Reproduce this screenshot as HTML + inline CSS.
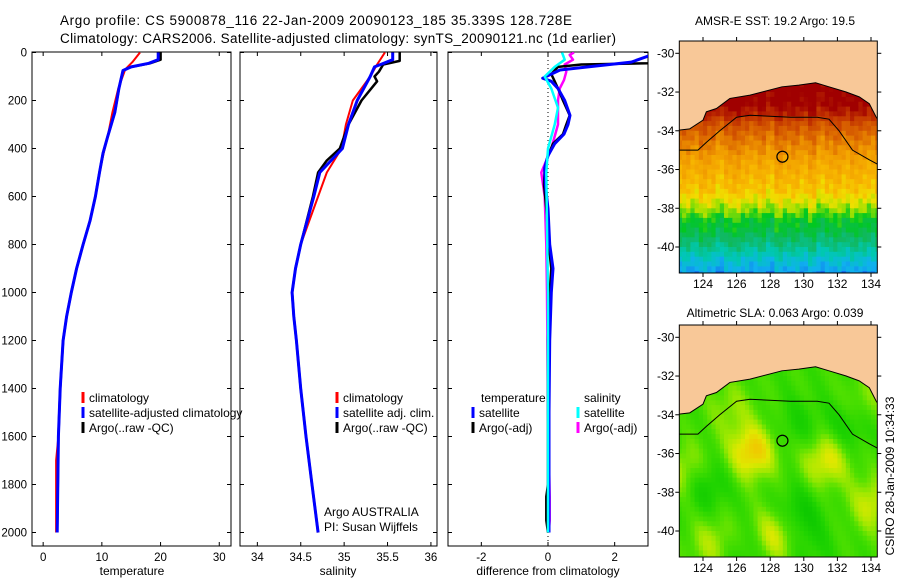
<!DOCTYPE html>
<html><head><meta charset="utf-8"><style>
html,body{margin:0;padding:0;background:#fff;}
svg{display:block;font-family:"Liberation Sans",sans-serif;}
</style></head><body>
<svg id="fig" width="900" height="580" viewBox="0 0 900 580" xmlns="http://www.w3.org/2000/svg">
<text x="60" y="25" font-size="13.5" textLength="512">Argo profile: CS 5900878_116 22-Jan-2009 20090123_185 35.339S 128.728E</text>
<text x="60" y="43" font-size="13.5" textLength="556">Climatology: CARS2006. Satellite-adjusted climatology: synTS_20090121.nc (1d earlier)</text>
<text x="775" y="25" font-size="12" text-anchor="middle">AMSR-E SST: 19.2 Argo: 19.5</text>
<text x="775" y="317" font-size="12" text-anchor="middle">Altimetric SLA: 0.063 Argo: 0.039</text>
<text transform="translate(894,476) rotate(-90)" font-size="12" text-anchor="middle">CSIRO 28-Jan-2009 10:34:33</text>
<g id="panels"></g>
<g id="maps"></g>
</svg>
<script>
// ---------- profile data ----------
const depthTicks=[0,200,400,600,800,1000,1200,1400,1600,1800,2000];
const tempTicks=[0,10,20,30];
const salTicks=[34,34.5,35,35.5,36];
const salTickLabels=["34","34.5","35","35.5","36"];
const diffTicks=[-2,0,2];

const tDepth=[0,30,45,60,75,150,250,350,420,500,600,700,800,900,1000,1100,1200,1400,1600,1800,2000];
const tArgo=[20.0,20.0,18.2,15.0,13.6,12.9,12.2,11.0,10.2,9.6,8.9,8.0,6.8,5.7,4.8,4.0,3.4,2.9,2.6,2.5,2.4];
const tSat=[19.6,19.6,18.0,15.0,13.6,12.9,12.2,11.0,10.2,9.6,8.9,8.0,6.8,5.7,4.8,4.0,3.4,2.9,2.6,2.5,2.4];
const tClimDepth=[0,40,70,150,250,350,420,500,600,700,800,900,1000,1100,1200,1400,1600,1700,1800,1950,2000];
const tClim=[16.5,15.2,14.0,12.8,11.8,11.0,10.3,9.6,8.9,8.0,6.8,5.7,4.8,4.0,3.4,2.9,2.6,2.2,2.2,2.2,2.2];

const sDepth=[0,30,60,100,200,300,400,450,500,600,800,900,1000,1100,1200,1400,1600,1800,2000];
const sSat=[35.56,35.56,35.35,35.30,35.15,35.05,34.98,34.85,34.72,34.65,34.50,34.44,34.40,34.42,34.45,34.50,34.56,34.63,34.70];
const sArgoDepth=[0,35,50,80,100,120,200,300,400,450,500,600,800,900,1000,1100,1200,1400,1600,1800,2000];
const sArgo=[35.64,35.64,35.45,35.40,35.35,35.38,35.20,35.05,34.95,34.80,34.70,34.64,34.50,34.44,34.40,34.42,34.45,34.50,34.56,34.63,34.70];
const sClimDepth=[0,50,100,200,300,400,500,600,800,900,1000,1100,1200,1400,1600,1800,2000];
const sClim=[35.47,35.38,35.30,35.10,35.02,34.97,34.80,34.70,34.50,34.44,34.40,34.42,34.45,34.50,34.56,34.63,34.70];

const dTSatDepth=[0,15,40,60,73,107,120,150,200,262,300,340,380,430,480,550,650,800,900,1000,1200,1500,1800,2000];
const dTSat=[3.3,3.0,2.5,1.2,0.36,-0.16,0.1,0.3,0.5,0.66,0.6,0.48,0.2,0.0,-0.1,-0.08,0.0,0.05,0.15,0.1,0.05,0.03,0.03,0.03];
const dTArgoDepth=[0,45,50,60,90,120,150,200,262,300,340,380,430,480,550,650,800,900,1000,1200,1500,1800,1850,1950,2000];
const dTArgo=[3.3,3.0,1.0,0.3,0.1,0.2,0.3,0.45,0.65,0.55,0.45,0.15,0.0,-0.1,-0.12,-0.05,0.02,0.1,0.05,0.0,0.0,0.0,-0.05,-0.05,0.0];
const dSSatDepth=[0,30,60,100,150,230,300,400,500,725,1000,1500,2000];
const dSSat=[0.42,0.5,0.2,-0.1,0.1,0.3,0.2,0.0,-0.05,-0.03,0.0,0.0,0.0];
const dSArgoDepth=[0,10,30,50,80,115,150,200,300,400,500,600,800,1000,1500,1850,1950,2000];
const dSArgo=[0.78,0.65,0.75,0.5,0.55,0.48,0.35,0.3,0.3,0.1,-0.2,-0.1,-0.05,-0.03,0.0,0.05,0.05,0.02];

// ---------- map data ----------
const sstLat=[-29.5,-30,-30.5,-31,-31.5,-32,-32.5,-33,-33.5,-34,-34.5,-35,-35.5,-36,-36.5,-37,-37.5,-38,-38.5,-39,-39.5,-40,-40.5,-41,-41.5];
const sstRow=[22.6,22.6,22.6,22.6,22.6,22.5,22.4,22.0,21.3,20.9,20.6,20.3,20.0,19.8,19.6,19.4,19.0,18.6,18.1,17.9,17.5,17.1,16.6,16.2,15.8];
const sstLonPert=[0,0.1,-0.1,0.2,0.1,-0.2,0.1,0.2,0,-0.1,0.1,-0.2,0.2,0,0.1,-0.1,0.2,-0.2,0,0.1,-0.1,0.1,0,-0.1,0.1,0];
const coastLon=[122.56,123.21,124.0,124.2,124.8,125.6,126.8,128.7,129.7,130.7,131.5,132.5,133.3,133.9,134.3,134.55];
const coastLat=[-33.97,-33.9,-33.45,-33.02,-32.85,-32.33,-32.16,-31.73,-31.64,-31.52,-31.73,-31.99,-32.25,-32.6,-33.28,-33.62];
const isoLon=[122.56,123.7,124.2,125.0,126.0,126.8,129.2,130.8,131.5,132.1,132.9,133.9,134.55];
const isoLat=[-35.0,-35.0,-34.6,-34.0,-33.3,-33.2,-33.3,-33.3,-33.4,-34.0,-35.0,-35.5,-35.8];
const floatLon=128.728, floatLat=-35.339;
const slaBlobLon=[126.8,131.2,128.1,122.8,134.0,124.5,124.0,129.5,132.5,126.5,129.5,130.3,125.5,133.5];
const slaBlobLat=[-35.8,-36.2,-40.1,-36.8,-38.5,-40.5,-37.5,-39.0,-34.5,-40.8,-34.5,-40.6,-33.5,-33.2];
const slaBlobAmp=[1.4,1.1,1.1,0.8,0.9,0.7,-0.7,-0.7,-0.6,-0.5,-0.4,-0.3,0.5,0.5];
const lonTicks=[124,126,128,130,132,134];
const latTicks=[-30,-32,-34,-36,-38,-40];

const NS="http://www.w3.org/2000/svg";
function mk(tag,attrs,parent){const e=document.createElementNS(NS,tag);for(const k in attrs)e.setAttribute(k,attrs[k]);parent.appendChild(e);return e;}
const panelsG=document.getElementById('panels');
const yD=d=>52.5+0.24*d;
const PT=52, PB=546;
const panels=[
 {name:'temperature',x0:32,x1:231,min:-1.9,max:32,ticks:tempTicks,labels:tempTicks.map(String),ylab:true},
 {name:'salinity',x0:240,x1:437,min:33.8,max:36.07,ticks:salTicks,labels:salTickLabels},
 {name:'difference',x0:448,x1:648,min:-3,max:3,ticks:diffTicks,labels:["-2","0","2"]}
];
panels.forEach((p,i)=>{
 p.sx=v=>p.x0+(v-p.min)/(p.max-p.min)*(p.x1-p.x0);
 const g=mk('g',{},panelsG);
 
 
 const cp=mk('clipPath',{id:'cp'+i},g);
 mk('rect',{x:p.x0,y:PT,width:p.x1-p.x0,height:PB-PT},cp);
 const fr=mk('rect',{x:p.x0,y:PT,width:p.x1-p.x0,height:PB-PT,fill:'none',stroke:'#000','stroke-width':1},g);
 
 
 depthTicks.forEach(d=>{
  const y=yD(d);
  mk('line',{x1:p.x0,x2:p.x0+4,y1:y,y2:y,stroke:'#000'},g);
  mk('line',{x1:p.x1-4,x2:p.x1,y1:y,y2:y,stroke:'#000'},g);
  if(p.ylab){const t=mk('text',{x:27,y:y+4,'font-size':11.5,'text-anchor':'end'},g);t.textContent=d;
   
   }
 });
 p.ticks.forEach((v,j)=>{
  const x=p.sx(v);
  mk('line',{x1:x,x2:x,y1:PB,y2:PB-4,stroke:'#000'},g);
  mk('line',{x1:x,x2:x,y1:PT,y2:PT+4,stroke:'#000'},g);
  const t=mk('text',{x:x,y:561,'font-size':11.5,'text-anchor':'middle'},g);t.textContent=p.labels[j];
  
  
 });
 p.g=mk('g',{'clip-path':'url(#cp'+i+')'},g);
});
[['temperature',132],['salinity',338],['difference from climatology',548]].forEach(([s,x])=>{
 const t=mk('text',{x:x,y:575,'font-size':12,'text-anchor':'middle'},panelsG);t.textContent=s;
 
 
});
function line(p,depths,vals,color,w,name){
 const pts=depths.map((d,k)=>p.sx(vals[k]).toFixed(1)+','+yD(d).toFixed(1)).join(' ');
 const e=mk('polyline',{points:pts,fill:'none',stroke:color,'stroke-width':w,'stroke-linejoin':'round'},p.g);
 
 
}
const P1=panels[0],P2=panels[1],P3=panels[2];
line(P1,tClimDepth,tClim,'#f00',2,'temperature-climatology-line');
line(P1,tDepth,tArgo,'#000',2.5,'temperature-argo-line');
line(P1,tDepth,tSat,'#00f',3,'temperature-satellite-line');
line(P2,sClimDepth,sClim,'#f00',2,'salinity-climatology-line');
line(P2,sArgoDepth,sArgo,'#000',2.5,'salinity-argo-line');
line(P2,sDepth,sSat,'#00f',3,'salinity-satellite-line');
const zl=mk('line',{x1:P3.sx(0),x2:P3.sx(0),y1:PT,y2:PB,stroke:'#000','stroke-dasharray':'1,3'},P3.g);


line(P3,dSArgoDepth,dSArgo,'#f0f',2.5,'salinity-argo-diff-line');
line(P3,dTArgoDepth,dTArgo,'#000',2.5,'temperature-argo-diff-line');
line(P3,dTSatDepth,dTSat,'#00f',3,'temperature-satellite-diff-line');
line(P3,dSSatDepth,dSSat,'#0ff',2.5,'salinity-satellite-diff-line');

function legend(x,y,color,label,name){
 const g=mk('g',{},panelsG);
 
 
 if(color) mk('line',{x1:x,x2:x,y1:y-10,y2:y+1,stroke:color,'stroke-width':3},g);
 const t=mk('text',{x:x+6,y:y,'font-size':12},g);t.textContent=label;
}
legend(83,402,'#f00','climatology','legend-climatology');
legend(83,417,'#00f','satellite-adjusted climatology','legend-satellite-adjusted');
legend(83,432,'#000','Argo(..raw -QC)','legend-argo');
legend(337,402,'#f00','climatology','legend-sal-climatology');
legend(337,417,'#00f','satellite adj. clim.','legend-sal-satellite');
legend(337,432,'#000','Argo(..raw -QC)','legend-sal-argo');
legend(475,402,null,'temperature','legend-temperature-header');
legend(473,417,'#00f','satellite','legend-temp-satellite');
legend(473,432,'#000','Argo(-adj)','legend-temp-argo');
legend(578,402,null,'salinity','legend-salinity-header');
legend(578,417,'#0ff','satellite','legend-sal-sat-diff');
legend(578,432,'#f0f','Argo(-adj)','legend-sal-argo-diff');
const a1=mk('text',{x:324,y:516,'font-size':12},panelsG);a1.textContent='Argo AUSTRALIA';


const a2=mk('text',{x:324,y:531,'font-size':12},panelsG);a2.textContent='PI: Susan Wijffels';



// ---------- maps ----------
const mapsG=document.getElementById('maps');
function hexToRgb(h){return [parseInt(h.substr(1,2),16),parseInt(h.substr(3,2),16),parseInt(h.substr(5,2),16)];}
function cmap(stops,v){
 if(v<=stops[0][0])return stops[0][1];
 for(let k=1;k<stops.length;k++){if(v<=stops[k][0]){const f=(v-stops[k-1][0])/(stops[k][0]-stops[k-1][0]);
  const a=hexToRgb(stops[k-1][1]),b=hexToRgb(stops[k][1]);
  return 'rgb('+a.map((c,j)=>Math.round(c+(b[j]-c)*f)).join(',')+')';}}
 return stops[stops.length-1][1];
}
const sstStops=[[15.6,'#1060e8'],[16.2,'#10b0f0'],[16.9,'#00c8b0'],[17.6,'#10b860'],[18.2,'#00c820'],[18.7,'#a0e000'],[19.1,'#f0e000'],[19.6,'#f8b800'],[20.3,'#f09800'],[21.0,'#d86000'],[21.8,'#c03000'],[22.4,'#a00000']];
const slaStops=[[-1,'#00c000'],[-0.3,'#20d400'],[0.2,'#50e000'],[0.6,'#a0e800'],[1.0,'#e0e800'],[1.4,'#f0c800']];
function makeMap(top,lat30,name,valueFn){
 const L=679.3,R=877.3,B=top+232,sc=19.37,lx=16.8;
 const X=lon=>703+(lon-124)*lx, Y=lat=>lat30+(-30-lat)*sc;
 const g=mk('g',{},mapsG);
 
 
 const cid='clip-'+name;
 const cp=mk('clipPath',{id:cid},g);mk('rect',{x:L,y:top,width:R-L,height:B-top},cp);
 const inner=mk('g',{'clip-path':'url(#'+cid+')'},g);
 const step=0.25;
 for(let lat=-29.25;lat>=-41.75;lat-=step){
  for(let lon=122.5;lon<=134.75;lon+=step){
   const v=valueFn(lon,lat);
   const c=mk('rect',{x:X(lon).toFixed(1),y:Y(lat).toFixed(1),width:(lx*step+0.6).toFixed(1),height:(sc*step+0.6).toFixed(1),fill:v},inner);
   
   
  }
 }
 let pts=coastLon.map((lo,k)=>X(lo)+','+Y(coastLat[k])).join(' ');
 pts=X(122.3)+','+Y(coastLat[0])+' '+pts+' '+X(135)+','+Y(-33.62)+' '+X(135)+','+(top-2)+' '+X(122.3)+','+(top-2);
 const land=mk('polygon',{points:pts,fill:'#f8c898',stroke:'#000','stroke-width':1},inner);
 
 
 const iso=mk('polyline',{points:isoLon.map((lo,k)=>X(lo)+','+Y(isoLat[k])).join(' '),fill:'none',stroke:'#000','stroke-width':1},inner);
 
 
 const fc=mk('circle',{cx:X(floatLon),cy:Y(floatLat),r:5.5,fill:'none',stroke:'#000','stroke-width':1.2},inner);
 
 
 const fr=mk('rect',{x:L,y:top,width:R-L,height:B-top,fill:'none',stroke:'#000'},g);
 
 
 latTicks.forEach(lt=>{const y=Y(lt);
  mk('line',{x1:L-4,x2:L,y1:y,y2:y,stroke:'#000'},g);
  mk('line',{x1:R,x2:R+4,y1:y,y2:y,stroke:'#000'},g);
  const t=mk('text',{x:L-5,y:y+4,'font-size':12,'text-anchor':'end'},g);t.textContent=lt;
  
  });
 lonTicks.forEach(lo=>{const x=X(lo);
  mk('line',{x1:x,x2:x,y1:B,y2:B+4,stroke:'#000'},g);
  mk('line',{x1:x,x2:x,y1:top-4,y2:top,stroke:'#000'},g);
  const t=mk('text',{x:x,y:B+15,'font-size':12,'text-anchor':'middle'},g);t.textContent=lo;
  
  });
}
function rowVal(lat){
 for(let k=1;k<sstLat.length;k++){if(lat>=sstLat[k]){const f=(sstLat[k-1]-lat)/0.5;return sstRow[k-1]+(sstRow[k]-sstRow[k-1])*f;}}
 return sstRow[sstRow.length-1];
}
makeMap(41,53.3,'sst-map',(lon,lat)=>{
 const ci=Math.min(sstLonPert.length-1,Math.max(0,Math.round((lon-122.5)*2)));
 const tex=0.3*Math.sin(lon*7.3+lat*3.1)*Math.cos(lon*2.9-lat*5.7);
 return cmap(sstStops,rowVal(lat)+sstLonPert[ci]+tex);
});
makeMap(325,337.3,'sla-map',(lon,lat)=>{
 let v=0;
 for(let k=0;k<slaBlobLon.length;k++){const dx=(lon-slaBlobLon[k])/1.4,dy=(lat-slaBlobLat[k])/1.4;v+=slaBlobAmp[k]*Math.exp(-(dx*dx+dy*dy));}
 v+=0.15*Math.sin(lon*3.1+lat*1.7);
 return cmap(slaStops,v);
});
</script>
</body></html>
